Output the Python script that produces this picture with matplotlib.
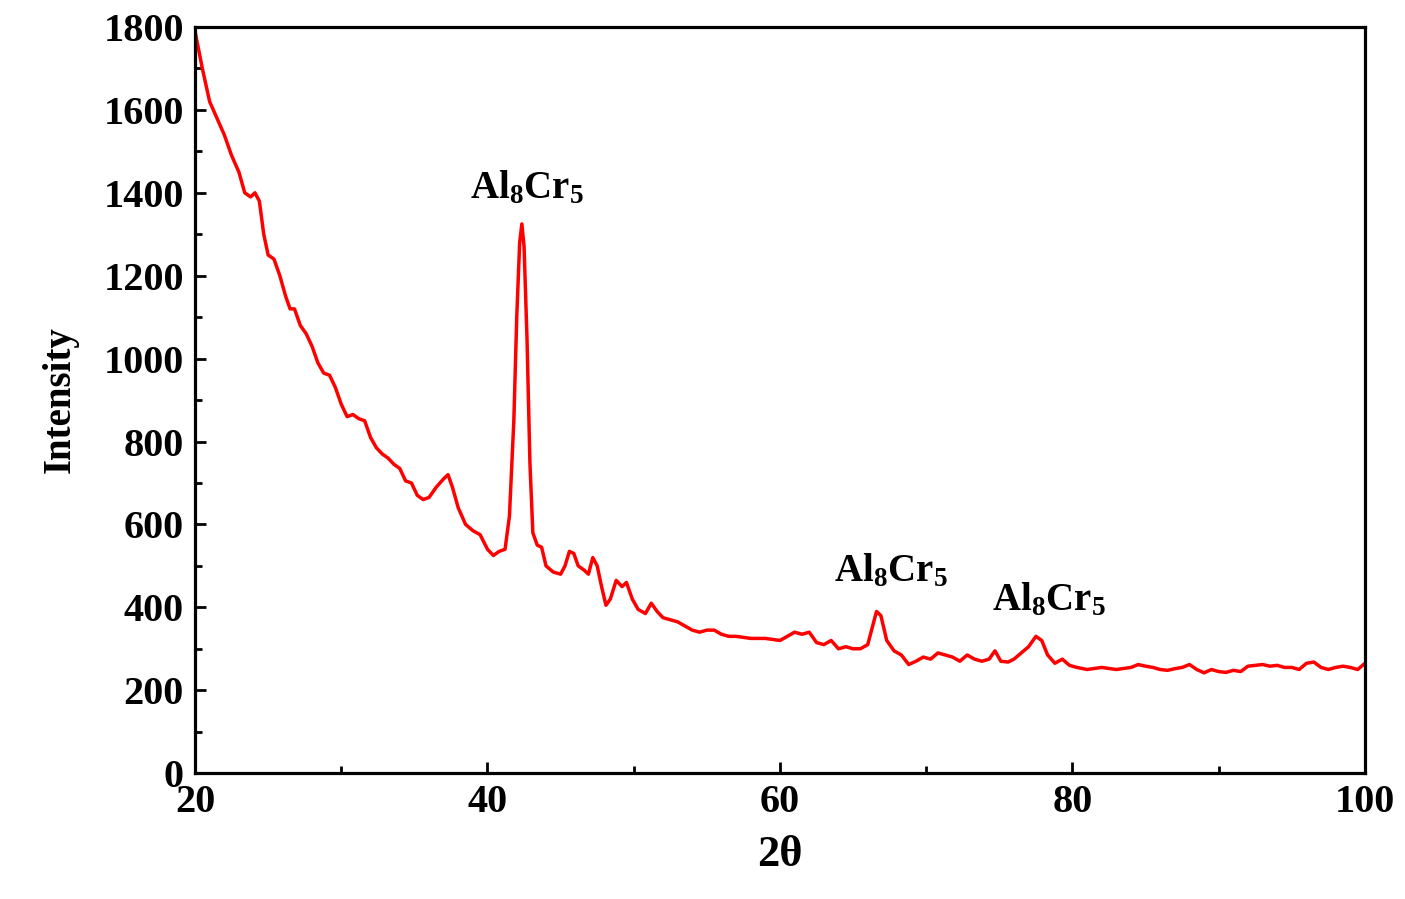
import matplotlib
matplotlib.use("Agg")
import matplotlib.pyplot as plt
from matplotlib.ticker import MultipleLocator

two_theta = [20,20.5,21,21.5,22,22.5,23,23.4,23.8,24.1,24.4,24.7,25,25.4,25.8,26.2,26.5,26.8,27.2,27.6,28,28.4,28.8,29.2,29.6,30,30.4,30.8,31.2,31.6,32,32.4,32.8,33.2,33.6,34,34.4,34.8,35.2,35.6,36,36.5,37,37.3,37.6,38,38.5,39,39.5,40,40.4,40.8,41.2,41.5,41.8,42.0,42.2,42.35,42.5,42.7,42.9,43.1,43.4,43.7,44,44.5,45,45.3,45.6,45.9,46.2,46.6,46.9,47.2,47.5,47.8,48.1,48.4,48.8,49.2,49.5,49.9,50.3,50.8,51.2,51.6,52,52.5,53,53.5,54,54.5,55,55.5,56,56.5,57,58,59,60,60.5,61,61.5,62,62.5,63,63.5,64,64.5,65,65.5,66,66.3,66.6,66.9,67.3,67.8,68.3,68.8,69.3,69.8,70.3,70.8,71.3,71.8,72.3,72.8,73.3,73.8,74.3,74.7,75.1,75.6,76,76.5,77,77.5,77.9,78.3,78.8,79.3,79.8,80.3,81,82,83,84,84.5,85,85.5,86,86.5,87,87.5,88,88.5,89,89.5,90,90.5,91,91.5,92,92.5,93,93.5,94,94.5,95,95.5,96,96.5,97,97.5,98,98.5,99,99.5,100]
intensity = [1790,1700,1620,1580,1540,1490,1450,1400,1390,1400,1380,1300,1250,1240,1200,1150,1120,1120,1080,1060,1030,990,965,960,930,890,860,865,855,850,810,785,770,760,745,735,705,700,670,660,665,690,710,720,690,640,600,585,575,540,525,535,540,620,850,1100,1280,1325,1270,1050,750,580,550,545,500,485,480,500,535,530,500,490,480,520,500,450,405,420,465,450,460,420,395,385,410,390,375,370,365,355,345,340,345,345,335,330,330,325,325,320,330,340,335,340,315,310,320,300,305,300,300,310,350,390,380,320,295,285,262,270,280,275,290,285,280,270,285,275,270,275,295,270,268,275,290,305,330,320,285,265,275,260,255,250,255,250,255,262,258,255,250,248,252,255,262,250,242,250,245,243,248,245,258,260,262,258,260,255,255,250,265,268,255,250,255,258,255,250,265]

peak_labels = ["Al$_8$Cr$_5$", "Al$_8$Cr$_5$", "Al$_8$Cr$_5$"]
peak_x = [42.7, 67.6, 78.4]
peak_y = [1365, 440, 370]

plt.rcParams['font.family'] = ['Liberation Serif', 'DejaVu Serif']
plt.rcParams['font.weight'] = 'bold'
plt.rcParams['mathtext.default'] = 'regular'

fig = plt.figure(figsize=(14.05, 8.99), dpi=100)
ax = fig.add_axes([0.1388, 0.140, 0.8327, 0.830])
ax.plot(two_theta, intensity, color='#ff0000', lw=2.5)
ax.set_xlim(20, 100)
ax.set_ylim(0, 1800)
ax.xaxis.set_major_locator(MultipleLocator(20))
ax.xaxis.set_minor_locator(MultipleLocator(10))
ax.yaxis.set_major_locator(MultipleLocator(200))
ax.yaxis.set_minor_locator(MultipleLocator(100))
ax.tick_params(which='both', direction='in', width=2, labelsize=29, pad=8)
ax.tick_params(which='major', length=8)
ax.tick_params(which='minor', length=5)
for s in ax.spines.values():
    s.set_linewidth(2.3)
for lab in ax.get_xticklabels() + ax.get_yticklabels():
    lab.set_fontweight('bold')
ax.set_xlabel('2θ', fontsize=32, fontweight='bold', labelpad=10)
ax.set_ylabel('Intensity', fontsize=28, fontweight='bold', labelpad=18)
for t, x, y in zip(peak_labels, peak_x, peak_y):
    ax.text(x, y, t, fontsize=28, fontweight='bold', ha='center', va='bottom')
fig.savefig('out.png', dpi=100)
